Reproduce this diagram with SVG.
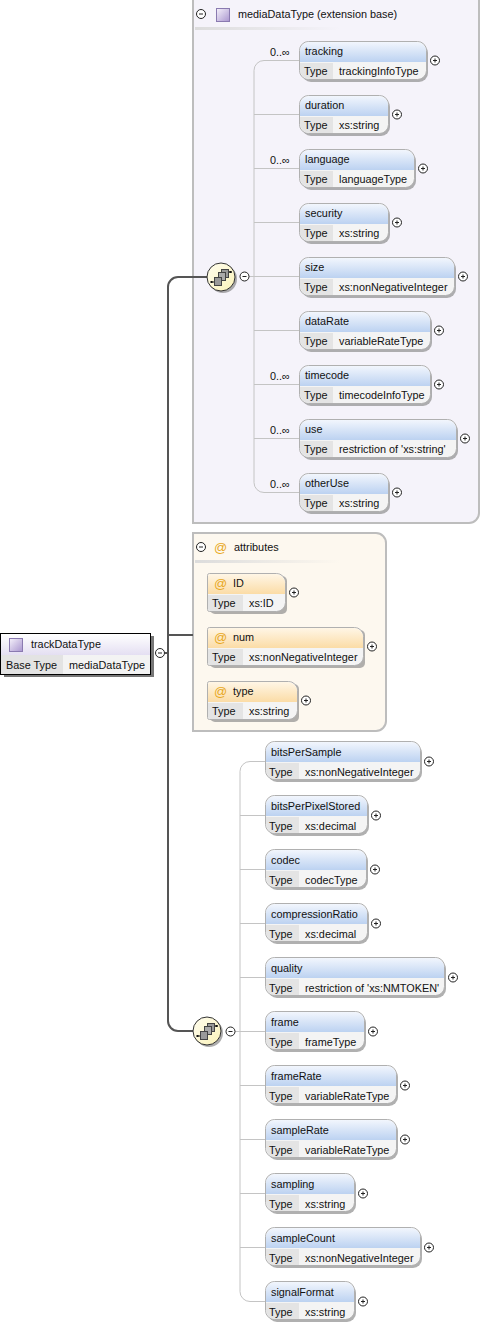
<svg xmlns="http://www.w3.org/2000/svg" width="481" height="1327" viewBox="0 0 481 1327">
<style>
text{font-family:"Liberation Sans",Arial,sans-serif;font-size:10.85px;fill:#111}
.shadow{fill:#8f8f8f;opacity:.7}
.box{fill:#f4f4f4;stroke:#b0b0b0;stroke-width:1}
.hd{fill:url(#blue)}
.ah{fill:url(#orange)}
.cell{fill:#e4e4e4}
.wire{fill:none;stroke:#c4c4c4;stroke-width:1}
.bus{fill:none;stroke:#555;stroke-width:2}
.pm{fill:#fff;stroke:#222;stroke-width:1}
.pl{stroke:#222;stroke-width:1;fill:none}
.at{fill:#e8a81e;font-size:13px}
</style>
<defs>
<linearGradient id="blue" x1="0" y1="0" x2="0" y2="1"><stop offset="0" stop-color="#f2f6fd"/><stop offset="1" stop-color="#bcd2f1"/></linearGradient>
<linearGradient id="orange" x1="0" y1="0" x2="0" y2="1"><stop offset="0" stop-color="#fff6e6"/><stop offset="1" stop-color="#fbdca6"/></linearGradient>
<linearGradient id="lilac" x1="0" y1="0" x2="1" y2="1"><stop offset="0" stop-color="#f6f2fb"/><stop offset="1" stop-color="#a995cf"/></linearGradient>
<linearGradient id="rootHd" x1="0" y1="0" x2="0" y2="1"><stop offset="0" stop-color="#fff"/><stop offset="1" stop-color="#e4dff2"/></linearGradient>
<linearGradient id="yel" x1="0" y1="0" x2="1" y2="1"><stop offset="0" stop-color="#fffdf0"/><stop offset="1" stop-color="#fbf3b8"/></linearGradient>
<linearGradient id="sep" x1="0" y1="0" x2="1" y2="0"><stop offset="0" stop-color="#dcdcdc"/><stop offset="1" stop-color="#dcdcdc" stop-opacity="0"/></linearGradient>
<g id="plus"><circle class="pm" r="4.5"/><path class="pl" d="M-2 0H2M0-2V2"/></g>
<g id="minus"><circle class="pm" r="4.5"/><path class="pl" d="M-2 0H2"/></g>
<g id="comp">
<circle cx="2" cy="2" r="14" fill="#777" opacity=".6"/>
<circle r="14" fill="url(#yel)" stroke="#333" stroke-width="1"/>
<path d="M-10 5H-6M8-5H11" stroke="#111" fill="none"/>
<rect x="-10.500" y="4" width="2" height="2" fill="#111"/><rect x="8.500" y="-6" width="2" height="2" fill="#111"/>
<rect x="0.500" y="-7.500" width="7" height="8" fill="#999" stroke="#444"/>
<rect x="-2.500" y="-4.500" width="7" height="8" fill="#aaa" stroke="#444"/>
<rect x="-6.500" y="0.500" width="7" height="8" fill="#999" stroke="#444"/>
</g>
</defs>

<g id="container-media">
<path d="M193 -2H479V513a10 10 0 0 1-10 10H193Z" fill="#f5f3fa" stroke="#bdbdbd" stroke-width="2"/>
<rect x="195" y="27" width="145" height="3" fill="url(#sep)"/>
<use href="#minus" x="201" y="14"/>
<rect x="216.500" y="8.500" width="13" height="13" fill="url(#lilac)" stroke="#8a7ab0"/>
<text x="238" y="18">mediaDataType (extension base)</text>
</g>
<g id="container-attributes">
<path d="M193 533H376a10 10 0 0 1 10 10V721a10 10 0 0 1-10 10H193Z" fill="#fdf8ef" stroke="#bdbdbd" stroke-width="2"/>
<rect x="195" y="560" width="145" height="3" fill="url(#sep)"/>
<use href="#minus" x="201" y="547"/>
<text class="at" x="214" y="552">@</text>
<text x="234" y="551">attributes</text>
</g>

<g id="connectors">
<path class="bus" d="M208 277H178a10 10 0 0 0-10 10V1021a10 10 0 0 0 10 10H193"/>
<path class="bus" d="M168 635H193"/>
<path class="bus" d="M165 653H168" stroke-width="1"/>
<path class="wire" d="M299 60.500H264a10 10 0 0 0-10 10V482.500a10 10 0 0 0 10 10H299"/>
<path class="wire" d="M254 114.500H299M254 168.500H299M254 222.500H299M248 276.500H299M254 330.500H299M254 384.500H299M254 438.500H299"/>
<path class="wire" d="M265 761.500H250a10 10 0 0 0-10 10V1291.500a10 10 0 0 0 10 10H265"/>
<path class="wire" d="M240 815.500H265M240 869.500H265M240 923.500H265M240 977.500H265M234 1031.500H265M240 1085.500H265M240 1139.500H265M240 1193.500H265M240 1247.500H265"/>
</g>

<g id="root-trackDataType">
<rect x="4" y="636" width="150" height="41" fill="#777"/>
<rect x="0.500" y="633.500" width="150" height="41" fill="#f3f3f3" stroke="#000"/>
<rect x="1" y="634" width="149" height="21" fill="url(#rootHd)"/>
<rect x="1" y="655" width="62" height="19" fill="#e3e3e3"/>
<rect x="9.500" y="638.500" width="13" height="13" fill="url(#lilac)" stroke="#8a7ab0"/>
<text x="31" y="648">trackDataType</text>
<text x="6" y="669">Base Type</text>
<text x="69" y="669">mediaDataType</text>
<use href="#minus" x="160" y="653"/>
</g>

<g id="comp-1"><use href="#comp" x="221" y="277"/><use href="#minus" x="244.500" y="276.500"/></g>
<g id="comp-2"><use href="#comp" x="207" y="1031"/><use href="#minus" x="230.500" y="1031.500"/></g>

<g id="n-tracking"><rect class="shadow" x="302" y="44" width="126" height="38" rx="9"/><rect class="box" x="299.500" y="41.500" width="127" height="38" rx="9"/><path class="hd" d="M300 62V51a9 9 0 0 1 9-9H417a9 9 0 0 1 9 9V62Z"/><path class="cell" d="M300 63H333V79H309a9 9 0 0 1-9-9Z"/><text x="305" y="55">tracking</text><text x="304" y="75">Type</text><text x="339" y="75">trackingInfoType</text><text x="270" y="56">0..∞</text><use href="#plus" x="435" y="60.500"/></g>
<g id="n-duration"><rect class="shadow" x="302" y="98" width="88" height="38" rx="9"/><rect class="box" x="299.500" y="95.500" width="89" height="38" rx="9"/><path class="hd" d="M300 116V105a9 9 0 0 1 9-9H379a9 9 0 0 1 9 9V116Z"/><path class="cell" d="M300 117H333V133H309a9 9 0 0 1-9-9Z"/><text x="305" y="109">duration</text><text x="304" y="129">Type</text><text x="339" y="129">xs:string</text><use href="#plus" x="397" y="114.500"/></g>
<g id="n-language"><rect class="shadow" x="302" y="152" width="114" height="38" rx="9"/><rect class="box" x="299.500" y="149.500" width="115" height="38" rx="9"/><path class="hd" d="M300 170V159a9 9 0 0 1 9-9H405a9 9 0 0 1 9 9V170Z"/><path class="cell" d="M300 171H333V187H309a9 9 0 0 1-9-9Z"/><text x="305" y="163">language</text><text x="304" y="183">Type</text><text x="339" y="183">languageType</text><text x="270" y="164">0..∞</text><use href="#plus" x="423" y="168.500"/></g>
<g id="n-security"><rect class="shadow" x="302" y="206" width="88" height="38" rx="9"/><rect class="box" x="299.500" y="203.500" width="89" height="38" rx="9"/><path class="hd" d="M300 224V213a9 9 0 0 1 9-9H379a9 9 0 0 1 9 9V224Z"/><path class="cell" d="M300 225H333V241H309a9 9 0 0 1-9-9Z"/><text x="305" y="217">security</text><text x="304" y="237">Type</text><text x="339" y="237">xs:string</text><use href="#plus" x="397" y="222.500"/></g>
<g id="n-size"><rect class="shadow" x="302" y="260" width="154" height="38" rx="9"/><rect class="box" x="299.500" y="257.500" width="155" height="38" rx="9"/><path class="hd" d="M300 278V267a9 9 0 0 1 9-9H445a9 9 0 0 1 9 9V278Z"/><path class="cell" d="M300 279H333V295H309a9 9 0 0 1-9-9Z"/><text x="305" y="271">size</text><text x="304" y="291">Type</text><text x="339" y="291">xs:nonNegativeInteger</text><use href="#plus" x="463" y="276.500"/></g>
<g id="n-dataRate"><rect class="shadow" x="302" y="314" width="130" height="38" rx="9"/><rect class="box" x="299.500" y="311.500" width="131" height="38" rx="9"/><path class="hd" d="M300 332V321a9 9 0 0 1 9-9H421a9 9 0 0 1 9 9V332Z"/><path class="cell" d="M300 333H333V349H309a9 9 0 0 1-9-9Z"/><text x="305" y="325">dataRate</text><text x="304" y="345">Type</text><text x="339" y="345">variableRateType</text><use href="#plus" x="439" y="330.500"/></g>
<g id="n-timecode"><rect class="shadow" x="302" y="368" width="130" height="38" rx="9"/><rect class="box" x="299.500" y="365.500" width="131" height="38" rx="9"/><path class="hd" d="M300 386V375a9 9 0 0 1 9-9H421a9 9 0 0 1 9 9V386Z"/><path class="cell" d="M300 387H333V403H309a9 9 0 0 1-9-9Z"/><text x="305" y="379">timecode</text><text x="304" y="399">Type</text><text x="339" y="399">timecodeInfoType</text><text x="270" y="380">0..∞</text><use href="#plus" x="439" y="384.500"/></g>
<g id="n-use"><rect class="shadow" x="302" y="422" width="156" height="38" rx="9"/><rect class="box" x="299.500" y="419.500" width="157" height="38" rx="9"/><path class="hd" d="M300 440V429a9 9 0 0 1 9-9H447a9 9 0 0 1 9 9V440Z"/><path class="cell" d="M300 441H333V457H309a9 9 0 0 1-9-9Z"/><text x="305" y="433">use</text><text x="304" y="453">Type</text><text x="339" y="453">restriction of 'xs:string'</text><text x="270" y="434">0..∞</text><use href="#plus" x="465" y="438.500"/></g>
<g id="n-otherUse"><rect class="shadow" x="302" y="476" width="88" height="38" rx="9"/><rect class="box" x="299.500" y="473.500" width="89" height="38" rx="9"/><path class="hd" d="M300 494V483a9 9 0 0 1 9-9H379a9 9 0 0 1 9 9V494Z"/><path class="cell" d="M300 495H333V511H309a9 9 0 0 1-9-9Z"/><text x="305" y="487">otherUse</text><text x="304" y="507">Type</text><text x="339" y="507">xs:string</text><text x="270" y="488">0..∞</text><use href="#plus" x="397" y="492.500"/></g>

<g id="a-ID"><rect class="shadow" x="210" y="576" width="77" height="38" rx="5"/><path class="box" d="M209.500 573.500H276.500a9 9 0 0 1 9 9V602.500a9 9 0 0 1-9 9H209.500a2 2 0 0 1-2-2V575.500a2 2 0 0 1 2-2Z"/><path class="ah" d="M210 574H276a9 9 0 0 1 9 9V594H208V576a2 2 0 0 1 2-2Z"/><path class="cell" d="M208 595H243V611H210a2 2 0 0 1-2-2Z"/><text class="at" x="214" y="588">@</text><text x="233" y="587">ID</text><text x="212" y="607">Type</text><text x="249" y="607">xs:ID</text><use href="#plus" x="294" y="592.500"/></g>
<g id="a-num"><rect class="shadow" x="210" y="630" width="155" height="38" rx="5"/><path class="box" d="M209.500 627.500H354.500a9 9 0 0 1 9 9V656.500a9 9 0 0 1-9 9H209.500a2 2 0 0 1-2-2V629.500a2 2 0 0 1 2-2Z"/><path class="ah" d="M210 628H354a9 9 0 0 1 9 9V648H208V630a2 2 0 0 1 2-2Z"/><path class="cell" d="M208 649H243V665H210a2 2 0 0 1-2-2Z"/><text class="at" x="214" y="642">@</text><text x="233" y="641">num</text><text x="212" y="661">Type</text><text x="249" y="661">xs:nonNegativeInteger</text><use href="#plus" x="372" y="646.500"/></g>
<g id="a-type"><rect class="shadow" x="210" y="684" width="89" height="38" rx="5"/><path class="box" d="M209.500 681.500H288.500a9 9 0 0 1 9 9V710.500a9 9 0 0 1-9 9H209.500a2 2 0 0 1-2-2V683.500a2 2 0 0 1 2-2Z"/><path class="ah" d="M210 682H288a9 9 0 0 1 9 9V702H208V684a2 2 0 0 1 2-2Z"/><path class="cell" d="M208 703H243V719H210a2 2 0 0 1-2-2Z"/><text class="at" x="214" y="696">@</text><text x="233" y="695">type</text><text x="212" y="715">Type</text><text x="249" y="715">xs:string</text><use href="#plus" x="306" y="700.500"/></g>

<g id="n-bitsPerSample"><rect class="shadow" x="268" y="744" width="154" height="38" rx="9"/><rect class="box" x="265.500" y="741.500" width="155" height="38" rx="9"/><path class="hd" d="M266 762V751a9 9 0 0 1 9-9H411a9 9 0 0 1 9 9V762Z"/><path class="cell" d="M266 763H299V779H275a9 9 0 0 1-9-9Z"/><text x="271" y="756">bitsPerSample</text><text x="269" y="776">Type</text><text x="305" y="776">xs:nonNegativeInteger</text><use href="#plus" x="429" y="761.500"/></g>
<g id="n-bitsPerPixelStored"><rect class="shadow" x="268" y="798" width="101" height="38" rx="9"/><rect class="box" x="265.500" y="795.500" width="102" height="38" rx="9"/><path class="hd" d="M266 816V805a9 9 0 0 1 9-9H358a9 9 0 0 1 9 9V816Z"/><path class="cell" d="M266 817H299V833H275a9 9 0 0 1-9-9Z"/><text x="271" y="810">bitsPerPixelStored</text><text x="269" y="830">Type</text><text x="305" y="830">xs:decimal</text><use href="#plus" x="376" y="815.500"/></g>
<g id="n-codec"><rect class="shadow" x="268" y="852" width="100" height="38" rx="9"/><rect class="box" x="265.500" y="849.500" width="101" height="38" rx="9"/><path class="hd" d="M266 870V859a9 9 0 0 1 9-9H357a9 9 0 0 1 9 9V870Z"/><path class="cell" d="M266 871H299V887H275a9 9 0 0 1-9-9Z"/><text x="271" y="864">codec</text><text x="269" y="884">Type</text><text x="305" y="884">codecType</text><use href="#plus" x="375" y="869.500"/></g>
<g id="n-compressionRatio"><rect class="shadow" x="268" y="906" width="101" height="38" rx="9"/><rect class="box" x="265.500" y="903.500" width="102" height="38" rx="9"/><path class="hd" d="M266 924V913a9 9 0 0 1 9-9H358a9 9 0 0 1 9 9V924Z"/><path class="cell" d="M266 925H299V941H275a9 9 0 0 1-9-9Z"/><text x="271" y="918">compressionRatio</text><text x="269" y="938">Type</text><text x="305" y="938">xs:decimal</text><use href="#plus" x="376" y="923.500"/></g>
<g id="n-quality"><rect class="shadow" x="268" y="960" width="178" height="38" rx="9"/><rect class="box" x="265.500" y="957.500" width="179" height="38" rx="9"/><path class="hd" d="M266 978V967a9 9 0 0 1 9-9H435a9 9 0 0 1 9 9V978Z"/><path class="cell" d="M266 979H299V995H275a9 9 0 0 1-9-9Z"/><text x="271" y="972">quality</text><text x="269" y="992">Type</text><text x="305" y="992">restriction of 'xs:NMTOKEN'</text><use href="#plus" x="453" y="977.500"/></g>
<g id="n-frame"><rect class="shadow" x="268" y="1014" width="98" height="38" rx="9"/><rect class="box" x="265.500" y="1011.500" width="99" height="38" rx="9"/><path class="hd" d="M266 1032V1021a9 9 0 0 1 9-9H355a9 9 0 0 1 9 9V1032Z"/><path class="cell" d="M266 1033H299V1049H275a9 9 0 0 1-9-9Z"/><text x="271" y="1026">frame</text><text x="269" y="1046">Type</text><text x="305" y="1046">frameType</text><use href="#plus" x="373" y="1031.500"/></g>
<g id="n-frameRate"><rect class="shadow" x="268" y="1068" width="130" height="38" rx="9"/><rect class="box" x="265.500" y="1065.500" width="131" height="38" rx="9"/><path class="hd" d="M266 1086V1075a9 9 0 0 1 9-9H387a9 9 0 0 1 9 9V1086Z"/><path class="cell" d="M266 1087H299V1103H275a9 9 0 0 1-9-9Z"/><text x="271" y="1080">frameRate</text><text x="269" y="1100">Type</text><text x="305" y="1100">variableRateType</text><use href="#plus" x="405" y="1085.500"/></g>
<g id="n-sampleRate"><rect class="shadow" x="268" y="1122" width="130" height="38" rx="9"/><rect class="box" x="265.500" y="1119.500" width="131" height="38" rx="9"/><path class="hd" d="M266 1140V1129a9 9 0 0 1 9-9H387a9 9 0 0 1 9 9V1140Z"/><path class="cell" d="M266 1141H299V1157H275a9 9 0 0 1-9-9Z"/><text x="271" y="1134">sampleRate</text><text x="269" y="1154">Type</text><text x="305" y="1154">variableRateType</text><use href="#plus" x="405" y="1139.500"/></g>
<g id="n-sampling"><rect class="shadow" x="268" y="1176" width="88" height="38" rx="9"/><rect class="box" x="265.500" y="1173.500" width="89" height="38" rx="9"/><path class="hd" d="M266 1194V1183a9 9 0 0 1 9-9H345a9 9 0 0 1 9 9V1194Z"/><path class="cell" d="M266 1195H299V1211H275a9 9 0 0 1-9-9Z"/><text x="271" y="1188">sampling</text><text x="269" y="1208">Type</text><text x="305" y="1208">xs:string</text><use href="#plus" x="363" y="1193.500"/></g>
<g id="n-sampleCount"><rect class="shadow" x="268" y="1230" width="154" height="38" rx="9"/><rect class="box" x="265.500" y="1227.500" width="155" height="38" rx="9"/><path class="hd" d="M266 1248V1237a9 9 0 0 1 9-9H411a9 9 0 0 1 9 9V1248Z"/><path class="cell" d="M266 1249H299V1265H275a9 9 0 0 1-9-9Z"/><text x="271" y="1242">sampleCount</text><text x="269" y="1262">Type</text><text x="305" y="1262">xs:nonNegativeInteger</text><use href="#plus" x="429" y="1247.500"/></g>
<g id="n-signalFormat"><rect class="shadow" x="268" y="1284" width="88" height="38" rx="9"/><rect class="box" x="265.500" y="1281.500" width="89" height="38" rx="9"/><path class="hd" d="M266 1302V1291a9 9 0 0 1 9-9H345a9 9 0 0 1 9 9V1302Z"/><path class="cell" d="M266 1303H299V1319H275a9 9 0 0 1-9-9Z"/><text x="271" y="1296">signalFormat</text><text x="269" y="1316">Type</text><text x="305" y="1316">xs:string</text><use href="#plus" x="363" y="1301.500"/></g>
</svg>
